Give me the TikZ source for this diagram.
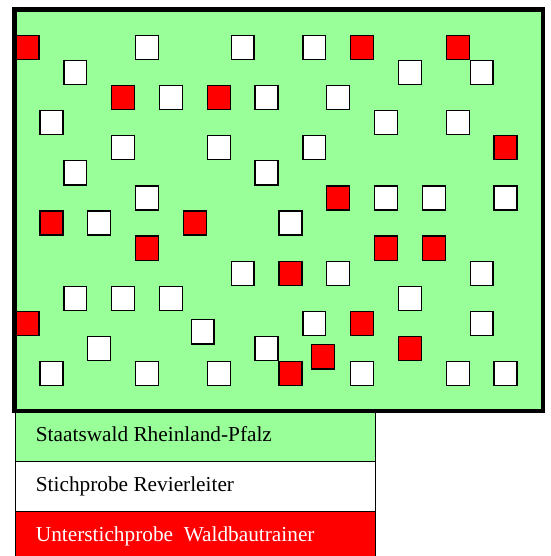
\documentclass[tikz,border=0pt]{standalone}
\usepackage{fontspec}
\setmainfont{Liberation Serif}
\definecolor{forest}{RGB}{153,255,153}
\definecolor{plotred}{RGB}{255,0,0}
\begin{document}
\begin{tikzpicture}[x=1pt,y=-1pt,
  plotsq/.style={draw=black,line width=1.3pt},
  legendrow/.style={draw=black,line width=1.4pt},
  legendtext/.style={anchor=base west,inner sep=0pt,font=\fontsize{21.3}{24}\selectfont}]
\useasboundingbox (0,0) rectangle (550,556);
% legend
\fill[forest] (15.2,412) rectangle (375.6,461.6);
\fill[white] (15.2,461.6) rectangle (375.6,511.6);
\fill[plotred] (15.2,511.6) rectangle (375.6,560);
\draw[legendrow] (15.2,560) -- (15.2,412) -- (375.6,412) -- (375.6,560);
\draw[legendrow] (15.2,461.6) -- (375.6,461.6);
\draw[legendrow] (15.2,511.6) -- (375.6,511.6);
\node[legendtext] (lgreen) at (35.7,441.3) {Staatswald Rheinland-Pfalz};
\node[legendtext] (lwhite) at (35.7,491.3) {Stichprobe Revierleiter};
\node[legendtext,text=white] (lred) at (35.7,541.3) {Unterstichprobe\ \ Waldbautrainer};
% forest area
\draw[fill=forest,line width=4.5pt] (14.5,9.5) rectangle (543,411);
% sample plots on the grid: column i, row j
\def\sqw{23.9}\def\sqh{25.1}
\foreach \i/\j in {5/0,9/0,12/0, 2/1,16/1,19/1, 6/2,10/2,13/2, 1/3,15/3,18/3,
  4/4,8/4,12/4, 2/5,10/5, 5/6,15/6,17/6,20/6, 3/7,11/7, 9/9,13/9,19/9,
  2/10,4/10,6/10,16/10, 12/11,19/11, 3/12,10/12, 1/13,5/13,8/13,14/13,18/13,20/13}
  \draw[plotsq,fill=white] ({15.6+\sqw*\i+0.5},{34.8+\sqh*\j+0.5}) rectangle ++(\sqw-1,\sqh-1);
\foreach \i/\j in {0/0,14/0,18/0, 4/2,8/2, 20/4, 13/6, 1/7,7/7, 5/8,15/8,17/8,
  11/9, 0/11,14/11, 16/12, 11/13}
  \draw[plotsq,fill=plotred] ({15.6+\sqw*\i+0.5},{34.8+\sqh*\j+0.5}) rectangle ++(\sqw-1,\sqh-1);
% two plots off the grid
\draw[plotsq,fill=white] (191.2,319.8) rectangle ++(\sqw-1,\sqh-1);
\draw[plotsq,fill=plotred] (311.5,344.8) rectangle ++(\sqw-1,\sqh-1);
\end{tikzpicture}
\end{document}
